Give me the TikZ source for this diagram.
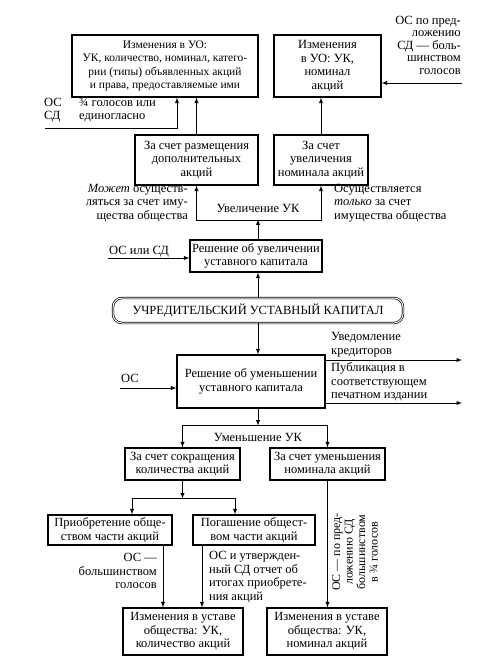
\documentclass[tikz,border=0pt]{standalone}
\usepackage{fontspec}
\setmainfont{Liberation Serif}
\begin{document}
\begin{tikzpicture}[x=1pt,y=-1pt,>=latex,
	every node/.style={font=\fontsize{12.5}{13.5}\selectfont},
	box/.style={draw,line width=1.2pt,align=center,inner sep=2pt},
	ring/.style={draw,double,double distance=1pt,line width=0.7pt,rounded corners=9pt,inner sep=2pt},
	link/.style={line width=0.9pt},
	note/.style={inner sep=1pt}]
	
	\useasboundingbox (0,0) rectangle (483,670);
	
	\node[box,minimum width=186pt,minimum height=62pt,font=\fontsize{11.5}{13.5}\selectfont] (uoA) at (165,66) {Изменения в УО:\\УК, количество, номинал, катего-\\рии (типы) объявленных акций\\и права, предоставляемые ими};
	\node[box,minimum width=107pt,minimum height=62pt] (uoB) at (327.5,66) {Изменения\\в УО: УК,\\номинал\\акций};
	\node[box,minimum width=123pt,minimum height=50pt] (dop) at (196.5,160) {За счет размещения\\дополнительных\\акций};
	\node[box,minimum width=94pt,minimum height=50pt] (nom) at (321,160) {За счет\\увеличения\\номинала акций};
	\node[box,minimum width=132pt,minimum height=32pt] (up) at (256,256) {Решение об увеличении\\уставного капитала};
	\node[ring,minimum width=290pt,minimum height=25pt] (ustav) at (258,310.5) {УЧРЕДИТЕЛЬСКИЙ УСТАВНЫЙ КАПИТАЛ};
	\node[box,minimum width=148pt,minimum height=53pt] (down) at (251,381.5) {Решение об уменьшении\\уставного капитала};
	\node[box,minimum width=115pt,minimum height=32pt] (cutq) at (182.5,464) {За счет сокращения\\количества акций};
	\node[box,minimum width=115pt,minimum height=32pt] (cutn) at (327.5,464) {За счет уменьшения\\номинала акций};
	\node[box,minimum width=124pt,minimum height=30pt] (buy) at (110,530) {Приобретение обще-\\ством части акций};
	\node[box,minimum width=122pt,minimum height=30pt] (kill) at (254,530) {Погашение общест-\\вом части акций};
	\node[box,minimum width=120pt,minimum height=47pt] (resq) at (183,631.5) {Изменения в уставе\\общества: УК,\\количество акций};
	\node[box,minimum width=120pt,minimum height=47pt] (resn) at (327,631.5) {Изменения в уставе\\общества: УК,\\номинал акций};
	
	\coordinate (osR) at (462,83);
	\coordinate (osL) at (45,128);
	\coordinate (osU) at (108,258);
	\coordinate (osD) at (120,388);
	\coordinate (kred) at (462,360);
	\coordinate (pub) at (462,403);
	
	\node[note,anchor=north east,align=right,font=\fontsize{12.5}{12.5}\selectfont] (osRt) at (osR |- 0,15) {ОС по пред-\\ложению\\СД — боль-\\шинством\\голосов};
	\node[note,anchor=west,align=left] (osLt) at (43,110) {ОС\\СД};
	\node[note,anchor=west,align=left] (votes) at (78,110) {¾ голосов или\\единогласно};
	\node[note,anchor=east,align=right] (may) at (189,203) {\textit{Может} осуществ-\\ляться за счет иму-\\щества общества};
	\node[note,anchor=west,align=left] (only) at (333,203) {Осуществляется\\\textit{только} за счет\\имущества общества};
	\node[note] (incr) at (258,208) {Увеличение УК};
	\node[note,above right] (osUt) at (osU) {ОС или СД};
	\node[note,above right] (osDt) at ([yshift=4pt]osD) {ОС};
	\node[note,anchor=south west,align=left] (kredt) at (330,358) {Уведомление\\кредиторов};
	\node[note,anchor=west,align=left] (pubt) at (330,382) {Публикация в\\соответствующем\\печатном издании};
	\node[note] (decr) at (258,437) {Уменьшение УК};
	\node[note,anchor=east,align=right] (maj) at (158,571) {ОС —\\большинством\\голосов};
	\node[note,anchor=west,align=left] (rep) at (208,577) {ОС и утвержден-\\ный СД отчет об\\итогах приобрете-\\ния акций};
	\node[note,rotate=90,align=center,font=\fontsize{12}{12.5}\selectfont] (q34) at (355,552) {ОС — по пред-\\ложению СД\\большинством\\в ¾ голосов};
	
	\draw[link,->] (osR) -- (osR -| uoB.east);
	\draw[link,->] (osL) -| ([xshift=12pt]uoA.south);
	\draw[link,->] (dop.north) -- (dop.north |- uoA.south);
	\draw[link,->] (nom.north) -- (nom.north |- uoB.south);
	\draw[link,<->] (dop.south) -- ++(0,35) -| (nom.south);
	\draw[link,->] (ustav.north |- up.north) -- ++(0,-20);
	\draw[link,->] (osU) -- (osU -| up.west);
	\draw[link,->] (ustav.north) -- (ustav.north |- up.south);
	\draw[link,->] (ustav.south) -- (ustav.south |- down.north);
	\draw[link,->] (osD) -- (osD -| down.west);
	\draw[link,->] (kred -| down.east) -- (kred);
	\draw[link,->] (pub -| down.east) -- (pub);
	
	\draw[link,->] (ustav.south |- down.south) -- ++(0,17) coordinate (f2);
	\draw[link,<->] (cutq.north) |- (f2 -| cutn.north) -- (cutn.north);
	\draw[link,->] (cutq.south) -- ++(0,18) coordinate (f3);
	\coordinate (ba) at ([xshift=22pt]buy.north);
	\coordinate (ka) at ([xshift=-19pt]kill.north);
	\draw[link,<->] (ba) |- (f3 -| ka) -- (ka);
	
	\coordinate (qa) at ([xshift=-20pt]resq.north);
	\coordinate (qb) at ([xshift=19pt]resq.north);
	\draw[link,->] (qa |- buy.south) -- (qa);
	\draw[link,->] (qb |- kill.south) -- (qb);
	\draw[link,->] (cutn.south) -- (cutn.south |- resn.north);
\end{tikzpicture}
\end{document}
